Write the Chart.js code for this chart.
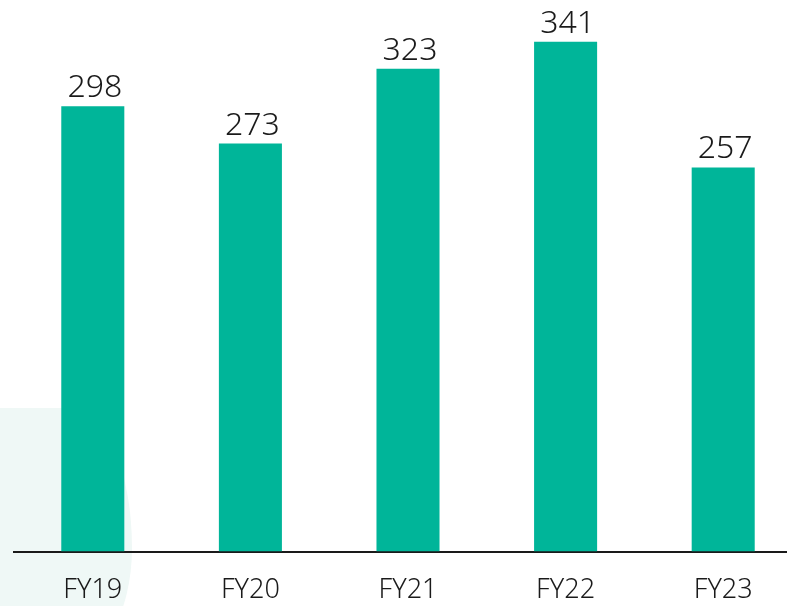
<!DOCTYPE html>
<html>
<head>
<meta charset="utf-8">
<script src="https://cdn.jsdelivr.net/npm/chart.js@4"></script>
<style>
  html, body { margin: 0; padding: 0; background: #fff; overflow: hidden; }
  #wrap { position: relative; width: 787px; height: 606px; overflow: hidden; }
  /* 배경 장식 도형 */
  #blob {
    position: absolute; left: 0; top: 408px; width: 132px; height: 260px;
    background: #eff8f6;
    border-radius: 0 60px 70px 0 / 0 140px 120px 0;
  }
  #box { position: absolute; left: 0; top: 0; width: 802px; height: 630px; }
</style>
</head>
<body>
<div id="wrap">
  <div id="blob"></div>
  <div id="box"><canvas id="barChart"></canvas></div>
</div>
<script>
// <========================== 데이터 ==========================>
const years = ['FY19', 'FY20', 'FY21', 'FY22', 'FY23'];
const values = [298, 273, 323, 341, 257];
const yMin = 0;
const yMax = 369;

// 막대 위에 값 표시
const valueLabels = {
    id: 'valueLabels',
    afterDatasetsDraw(chart) {
        const ctx = chart.ctx;
        const meta = chart.getDatasetMeta(0);
        ctx.save();
        ctx.font = '300 32px "Noto Sans"';
        ctx.fillStyle = '#1a1a1a';
        ctx.textAlign = 'center';
        ctx.textBaseline = 'alphabetic';
        meta.data.forEach(function(bar, i) {
            ctx.fillText(values[i], bar.x + 2, bar.y - 9);
        });
        ctx.restore();
    }
};

const ctx = document.getElementById('barChart').getContext('2d');
window.barChart = new Chart(ctx, {
    type: 'bar',
    data: {
        labels: years,
        datasets: [{
            data: values,
            backgroundColor: '#00b599',
            barPercentage: 0.4,
            categoryPercentage: 1.0
        }]
    },
    options: {
        responsive: true,
        maintainAspectRatio: false,
        animation: false,
        layout: { padding: { left: 14, right: 0, top: 0, bottom: 0 } },
        plugins: {
            legend: { display: false },
            tooltip: { enabled: false }
        },
        scales: {
            x: {
                grid: { display: false, drawTicks: false },
                border: { display: true, color: '#1a1a1a', width: 2 },
                ticks: {
                    color: '#1a1a1a',
                    padding: 23,
                    font: { family: 'Noto Sans', size: 27, weight: 300 }
                }
            },
            y: {
                display: false,
                min: yMin,
                max: yMax
            }
        }
    },
    plugins: [valueLabels]
});
</script>
</body>
</html>
